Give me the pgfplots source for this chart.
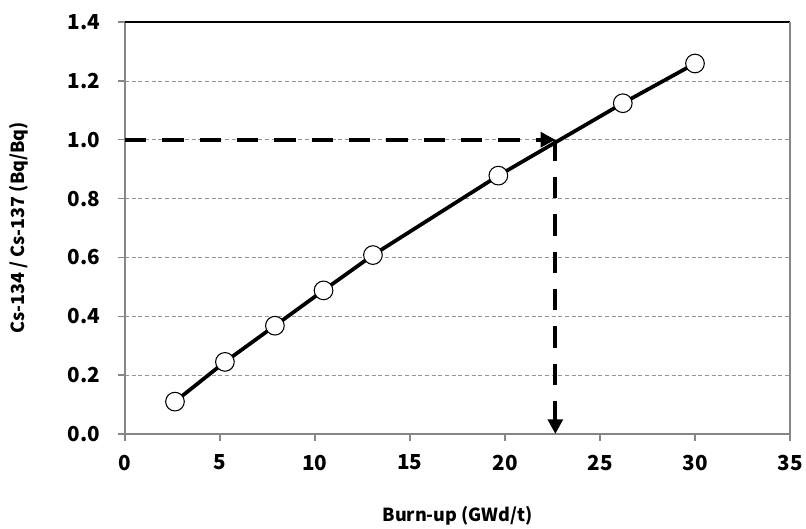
\documentclass[border=0pt]{standalone}
\usepackage{fontspec}
\setmainfont{Noto Sans CJK KR}
\usepackage{pgfplots}
\pgfplotsset{compat=1.18}
\usetikzlibrary{arrows.meta}
\definecolor{axgray}{RGB}{134,134,134}
\definecolor{gridgray}{RGB}{150,150,150}

\begin{document}
\begin{tikzpicture}[x=1pt,y=1pt]
\begin{axis}[
    scale only axis,
    width=498.75pt, height=309pt,
    xmin=0, xmax=35, ymin=0, ymax=1.4,
    xtick={0,5,...,35},
    ytick={0,0.2,...,1.4},
    yticklabel style={/pgf/number format/fixed,/pgf/number format/fixed zerofill,/pgf/number format/precision=1},
    /pgf/number format/assume math mode=true,
    tick label style={font=\fontsize{15.5}{17}\selectfont\bfseries},
    xticklabel style={yshift=-7pt},
    yticklabel style={xshift=-10pt},
    axis line style={axgray, line width=1pt},
    axis x line*=bottom, axis y line*=left,
    tick style={axgray, line width=1pt},
    tick align=outside,
    major tick length=5pt,
    ymajorgrids,
    grid style={gridgray, densely dashed, line width=0.5pt},
    xlabel={Burn-up (GWd/t)},
    ylabel={Cs-134 / Cs-137 (Bq/Bq)},
    label style={font=\fontsize{13.5}{15}\selectfont\bfseries},
    xlabel style={yshift=-20pt},
    ylabel style={yshift=23pt},
    clip=false,
]
\draw[black, line width=0.8pt] (axis cs:0,1.4) -- (axis cs:35,1.4);
\draw[axgray, line width=1pt] (axis cs:35,0) -- (axis cs:35,1.4);
\addplot[black, line width=3pt, dash pattern=on 16pt off 12pt, -{Triangle[length=11pt,width=11pt]}]
  coordinates {(0,1.0) (22.65,1.0)};
\addplot[black, line width=3pt, dash pattern=on 16pt off 12pt, -{Triangle[length=11pt,width=11pt]}]
  coordinates {(22.65,1.0) (22.65,0)};
\addplot[black, line width=2.8pt, mark=*, mark size=7pt,
  mark options={fill=white, draw=black, line width=0.8pt}]
  coordinates {
  (2.63,0.110)
  (5.26,0.245)
  (7.89,0.368)
  (10.45,0.488)
  (13.05,0.608)
  (19.65,0.878)
  (26.2,1.124)
  (30.0,1.259)
};
\end{axis}
\pgfresetboundingbox
\path (-93.75pt,-70.5pt) rectangle (510.75pt,325.5pt);
\end{tikzpicture}
\end{document}
